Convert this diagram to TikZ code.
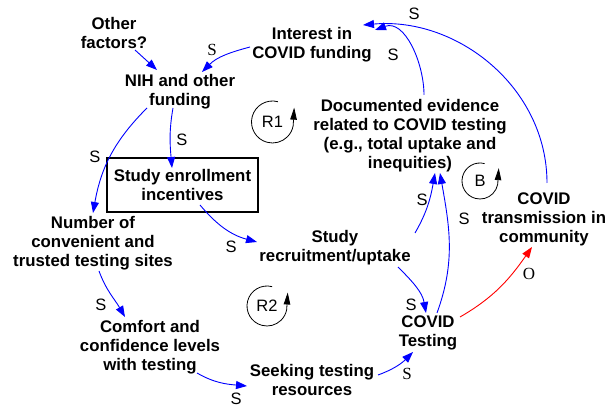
\documentclass[tikz,border=0pt]{standalone}
\usepackage{fontspec}
\setmainfont{Liberation Sans}
\newfontfamily\serifface{Liberation Serif}
\usetikzlibrary{arrows.meta}
\definecolor{linkblue}{RGB}{0,0,255}
\definecolor{linkred}{RGB}{255,0,0}

\begin{document}
\begin{tikzpicture}[x=1pt,y=1pt,
  var/.style={font=\fontsize{16.8}{19}\selectfont\bfseries, align=center, inner sep=0pt},
  pol/.style={font=\fontsize{16.5}{16.5}\selectfont, inner sep=0pt},
  polserif/.style={font=\serifface\fontsize{17}{17}\selectfont, inner sep=0pt},
  link/.style={draw=linkblue, line width=0.9pt, -{Triangle[length=11pt,width=8pt]}},
  redlink/.style={draw=linkred, line width=0.9pt, -{Triangle[length=11pt,width=8pt]}},
  loopline/.style={draw=black, line width=0.8pt, -{Triangle[length=12pt,width=6.5pt]}}
]
\useasboundingbox (0,0) rectangle (613,409);

% variables
\node[var] (other)    at (114,376) {Other\\factors?};
\node[var] (nih)      at (180,317) {NIH and other\\funding};
\node[var] (interest) at (312,364) {Interest in\\COVID funding};
\node[var, draw=black, line width=2pt, minimum width=151pt, minimum height=54pt]
      (incent) at (182.5,224) {Study enrollment\\incentives};
\node[var] (docs)     at (410,273) {Documented evidence\\related to COVID testing\\(e.g., total uptake and\\inequities)};
\node[var] (trans)    at (544,190) {COVID\\transmission in\\community};
\node[var] (sites)    at (93,166)  {Number of\\convenient and\\trusted testing sites};
\node[var] (recruit)  at (335,161) {Study\\recruitment/uptake};
\node[var] (comfort)  at (150,62)  {Comfort and\\confidence levels\\with testing};
\node[var] (seeking)  at (312,29)  {Seeking testing\\resources};
\node[var] (testing)  at (428,76)  {COVID\\Testing};

% loop markers
\node[pol] (r1) at (272.5,287) {R1};
\draw[loopline] (r1.center) ++(75:21) arc[start angle=75,end angle=350,radius=21] -- ++(1,18);
\node[pol] (bl) at (480,228) {B};
\draw[loopline] (bl.center) ++(75:18) arc[start angle=75,end angle=350,radius=18] -- ++(1,16);
\node[pol] (r2) at (267,103) {R2};
\draw[loopline] (r2.center) ++(75:20) arc[start angle=75,end angle=350,radius=20] -- ++(1,17);

% causal links
\draw[link] ([shift={(21,-17)}]other.center) -- ([shift={(-23,22)}]nih.center);
\draw[link] ([shift={(-62,-2)}]interest.center) to[out=195,in=45] ([shift={(22,20)}]nih.center);
\draw[link] ([shift={(-7,-16)}]nih.center) to[out=260,in=95] ([shift={(-10.5,17)}]incent.center);
\draw[link] ([shift={(-33,-16)}]nih.center) to[out=225,in=80] ([shift={(0,30)}]sites.center);
\draw[link] ([shift={(17.5,-20)}]incent.center) to[out=-50,in=165] ([shift={(-78,6)}]recruit.center);
\draw[link] ([shift={(6,-28)}]sites.center) to[out=-70,in=120] ([shift={(-25,30)}]comfort.center);
\draw[link] ([shift={(47,-26)}]comfort.center) to[out=-30,in=175] ([shift={(-65,-6)}]seeking.center);
\draw[link] ([shift={(66,5)}]seeking.center) to[out=20,in=225] ([shift={(-15,-19)}]testing.center);
\draw[link] ([shift={(63,-19)}]recruit.center) to[out=-45,in=100] ([shift={(-2,20)}]testing.center);
\draw[link] ([shift={(80,15)}]recruit.center) to[out=60,in=260] ([shift={(25,-37)}]docs.center);
\draw[link] ([shift={(9,20)}]testing.center) to[out=70,in=-80] ([shift={(30,-37)}]docs.center);
\draw[redlink] ([shift={(32,16)}]testing.center) to[out=30,in=235] ([shift={(-12,-28)}]trans.center);
\draw[link] ([shift={(14,41)}]docs.center) to[out=90,in=20] ([shift={(63,15)}]interest.center);
\draw[link] ([shift={(3,36)}]trans.center) to[out=90,in=5] ([shift={(51,20)}]interest.center);

% link polarities
\node[polserif] (p1)  at (212,359) {S};
\node[pol]      (p2)  at (182,269) {S};
\node[pol]      (p3)  at (95,252)  {S};
\node[pol]      (p4)  at (231,162) {S};
\node[pol]      (p5)  at (101,104) {S};
\node[pol]      (p6)  at (236,10)  {S};
\node[polserif] (p7)  at (407,35)  {S};
\node[pol]      (p8)  at (411,104) {S};
\node[pol]      (p9)  at (422,209) {S};
\node[pol]      (p10) at (464,190) {S};
\node[polserif] (p11) at (529,135) {O};
\node[pol]      (p12) at (393,354) {S};
\node[pol]      (p13) at (414,395) {S};
\end{tikzpicture}
\end{document}
